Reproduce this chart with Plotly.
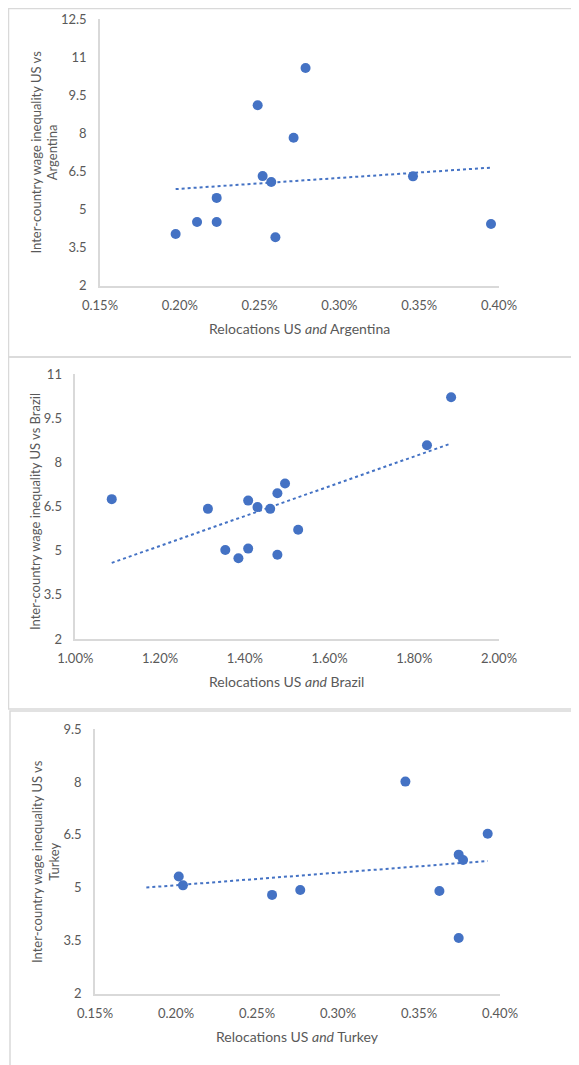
import numpy as np
import plotly.graph_objects as go

# ---------------- data ----------------
arg_x = [0.1974, 0.2108, 0.2231, 0.2231, 0.2488, 0.2519, 0.2573, 0.2599, 0.2713, 0.2788, 0.3461, 0.3950]
arg_y = [4.04, 4.51, 4.51, 5.46, 9.11, 6.32, 6.09, 3.91, 7.83, 10.58, 6.31, 4.43]

bra_x = [1.086, 1.313, 1.354, 1.385, 1.408, 1.408, 1.430, 1.460, 1.477, 1.477, 1.495, 1.526, 1.830, 1.887]
bra_y = [6.75, 6.42, 5.02, 4.74, 6.70, 5.07, 6.48, 6.42, 6.95, 4.86, 7.28, 5.71, 8.58, 10.21]

tur_x = [0.2017, 0.2043, 0.2593, 0.2767, 0.3416, 0.3626, 0.3745, 0.3772, 0.3745, 0.3924]
tur_y = [5.32, 5.07, 4.80, 4.94, 8.01, 4.91, 5.94, 5.79, 3.58, 6.53]

# trendline backward forecast (in % units)
trend_backward = [0.0, 0.0, 0.02]

countries = ["Argentina", "Brazil", "Turkey"]
y_titles = ["Inter-country wage inequality US vs<br>Argentina",
            "Inter-country wage inequality US vs Brazil",
            "Inter-country wage inequality US vs<br>Turkey"]
x_titles = ["Relocations US <i>and</i> Argentina",
            "Relocations US <i>and</i> Brazil",
            "Relocations US <i>and</i> Turkey"]
x_ranges = [[0.15, 0.40], [1.0, 2.0], [0.15, 0.40]]
x_dticks = [0.05, 0.2, 0.05]
y_ranges = [[2, 12.5], [2, 11], [2, 9.5]]

# ---------------- layout geometry (page pixels) ----------------
PAGE_W, PAGE_H = 579, 1065
OFF = 8  # default body margin of the written html page
W, H = PAGE_W - OFF, PAGE_H - OFF


def px_x(p):
    return (p - OFF) / W


def px_y(p):
    return 1 - (p - OFF) / H


plot_px = [  # left, right, top, bottom
    (100, 499, 19.3, 285.7),
    (75.3, 499, 374, 639),
    (95, 500, 729, 993.7),
]
ytitle_px = [(44, 152.5), (35, 512), (45.5, 861.5)]
xtitle_px = [(299, 328), (286.5, 681), (297.5, 1036.5)]
border_px = [(8.5, 8.5, 357), (8.5, 357, 709), (10, 711, 1075)]

BLUE = "#4472C4"
GRAY = "#595959"
LINE = "#D9D9D9"
FONT = "Lato"

fig = go.Figure()
datasets = [(arg_x, arg_y), (bra_x, bra_y), (tur_x, tur_y)]
annotations = []
shapes = []

for i, (xs, ys) in enumerate(datasets):
    n = "" if i == 0 else str(i + 1)
    xa, ya = "x" + n, "y" + n
    fig.add_trace(go.Scatter(x=xs, y=ys, mode="markers", xaxis=xa, yaxis=ya,
                             marker=dict(color=BLUE, size=10), showlegend=False))
    m, b = np.polyfit(xs, ys, 1)
    tx = np.array([min(xs) - trend_backward[i], max(xs)])
    fig.add_trace(go.Scatter(x=tx, y=m * tx + b, mode="lines", xaxis=xa, yaxis=ya,
                             line=dict(color=BLUE, width=2, dash="dot"), showlegend=False))

    l, r, t, btm = plot_px[i]
    xdom = [px_x(l), px_x(r)]
    ydom = [px_y(btm), px_y(t)]
    fig.layout["xaxis" + n] = dict(
        domain=xdom, anchor=ya, range=x_ranges[i], dtick=x_dticks[i], tick0=x_ranges[i][0],
        tickformat=".2f", ticksuffix="%", showgrid=False, zeroline=False, automargin=False,
        showline=True, linecolor=LINE, linewidth=1.5,
        ticks="outside", ticklen=7, tickcolor="rgba(0,0,0,0)",
        tickfont=dict(family=FONT, size=13, color=GRAY))
    fig.layout["yaxis" + n] = dict(
        domain=ydom, anchor=xa, range=y_ranges[i], dtick=1.5, tick0=2, automargin=False,
        showgrid=False, zeroline=False, showline=True, linecolor=LINE, linewidth=1.5,
        ticks="outside", ticklen=9, tickcolor="rgba(0,0,0,0)",
        tickfont=dict(family=FONT, size=13, color=GRAY))

    yx, yy = ytitle_px[i]
    annotations.append(dict(text=y_titles[i], xref="paper", yref="paper",
                            x=px_x(yx), y=px_y(yy), xanchor="center", yanchor="middle",
                            textangle=-90, showarrow=False,
                            font=dict(family=FONT, size=13, color=GRAY)))
    xx, xy = xtitle_px[i]
    annotations.append(dict(text=x_titles[i], xref="paper", yref="paper",
                            x=px_x(xx), y=px_y(xy), xanchor="center", yanchor="middle",
                            showarrow=False, font=dict(family=FONT, size=14, color=GRAY)))
    bl, bt, bb = border_px[i]
    shapes.append(dict(type="rect", xref="paper", yref="paper",
                       x0=px_x(bl), x1=1.05, y0=px_y(bb), y1=px_y(bt),
                       line=dict(color=LINE, width=1.5), fillcolor="rgba(0,0,0,0)", layer="below"))

fig.update_layout(width=W, height=H, margin=dict(l=0, r=0, t=0, b=0, autoexpand=False),
                  paper_bgcolor="white", plot_bgcolor="white",
                  annotations=annotations, shapes=shapes)

fig.write_html("out.html")
